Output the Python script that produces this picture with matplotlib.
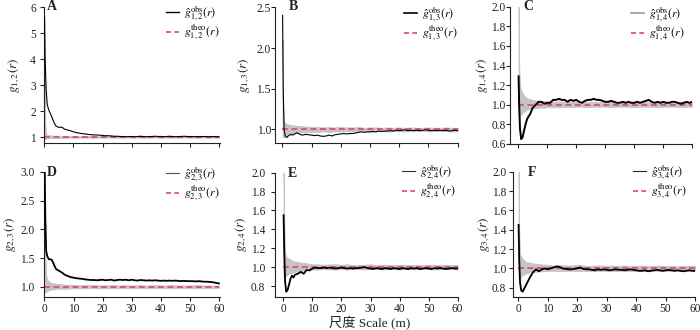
import matplotlib
matplotlib.use("Agg")
import matplotlib.pyplot as plt
from matplotlib.lines import Line2D

plt.rcParams["font.family"] = ["Liberation Serif", "Noto Sans CJK SC"]
plt.rcParams["mathtext.fontset"] = "stix"

# distance grid (m) for the observed curves
r = [0.1, 0.3, 0.6, 1, 1.5, 2, 2.5, 3, 3.5, 4] + list(range(5, 61))
# distance grid (m) for the simulation envelopes
env_r = [0.1, 0.3, 0.6, 1, 1.5, 2, 2.5, 3, 3.5, 4, 5, 6, 7, 8, 9, 10] + list(range(12, 61, 2))

pairs = ["1,2", "1,3", "1,4", "2,3", "2,4", "3,4"]
letters = ["A", "B", "C", "D", "E", "F"]

g12_obs = [5.6, 4.0, 2.9, 2.25, 2.05, 1.92, 1.80, 1.65, 1.52, 1.42,
           1.37, 1.38, 1.30, 1.27, 1.24, 1.20, 1.17, 1.15, 1.13, 1.12,
           1.10, 1.09, 1.08, 1.08, 1.07, 1.06, 1.05, 1.05, 1.04, 1.03,
           1.03, 1.02, 1.02, 1.01, 1.02, 1.02, 1.01, 1.02, 1.03, 1.02,
           1.01, 1.02, 1.02, 1.03, 1.02, 1.02, 1.01, 1.02, 1.03, 1.02,
           1.01, 1.02, 1.02, 1.03, 1.02, 1.02, 1.01, 1.02, 1.01, 1.02,
           1.02, 1.01, 1.01, 1.02, 1.01, 1.01]
g12_hi = [4.0, 1.6, 1.15, 1.08, 1.07, 1.06, 1.06, 1.05, 1.05, 1.05, 1.05, 1.045, 1.04, 1.04, 1.04, 1.04,
          1.04, 1.035, 1.04, 1.03, 1.035, 1.03, 1.03, 1.035, 1.03, 1.025, 1.03, 1.03, 1.025,
          1.03, 1.025, 1.03, 1.025, 1.03, 1.025, 1.025, 1.03, 1.025, 1.025, 1.03, 1.025]
g12_lo = [0.9, 0.93, 0.94, 0.95, 0.95, 0.955, 0.96, 0.96, 0.96, 0.965, 0.965, 0.965, 0.97, 0.97, 0.97, 0.97,
          0.97, 0.975, 0.97, 0.975, 0.975, 0.98, 0.975, 0.975, 0.98, 0.975, 0.98, 0.975, 0.98,
          0.98, 0.975, 0.98, 0.98, 0.975, 0.98, 0.98, 0.975, 0.98, 0.98, 0.975, 0.98]

g13_obs = [2.4, 1.5, 1.0, 0.92, 0.90, 0.92, 0.93, 0.94, 0.93, 0.94,
           0.96, 0.94, 0.93, 0.94, 0.935, 0.93, 0.925, 0.93, 0.92, 0.915,
           0.92, 0.93, 0.92, 0.935, 0.94, 0.945, 0.95, 0.945, 0.95, 0.95,
           0.955, 0.965, 0.97, 0.965, 0.97, 0.97, 0.975, 0.97, 0.98, 0.975,
           0.98, 0.98, 0.985, 0.98, 0.99, 0.985, 0.99, 0.995, 0.985, 0.99,
           0.985, 0.99, 0.985, 0.99, 0.995, 0.99, 0.985, 0.99, 0.985, 0.99,
           0.985, 0.99, 0.98, 0.985, 0.99, 0.985]
g13_hi = [2.1, 1.3, 1.1, 1.08, 1.07, 1.06, 1.06, 1.05, 1.05, 1.05, 1.045, 1.04, 1.04, 1.035, 1.035, 1.03,
          1.03, 1.025, 1.03, 1.025, 1.03, 1.025, 1.025, 1.03, 1.02, 1.025, 1.025, 1.02, 1.025,
          1.02, 1.025, 1.02, 1.025, 1.02, 1.02, 1.025, 1.02, 1.02, 1.025, 1.02, 1.02]
g13_lo = [0.92, 0.9, 0.91, 0.92, 0.93, 0.94, 0.945, 0.95, 0.95, 0.955, 0.96, 0.96, 0.965, 0.965, 0.97, 0.97,
          0.97, 0.975, 0.97, 0.975, 0.975, 0.98, 0.975, 0.98, 0.98, 0.975, 0.98, 0.98, 0.975,
          0.98, 0.98, 0.975, 0.98, 0.98, 0.98, 0.975, 0.98, 0.98, 0.98, 0.975, 0.98]

g14_obs = [1.29, 1.0, 0.75, 0.65, 0.67, 0.74, 0.80, 0.85, 0.88, 0.90,
           0.97, 1.00, 1.03, 1.03, 1.01, 1.02, 1.02, 1.05, 1.05, 1.06,
           1.05, 1.05, 1.03, 1.05, 1.04, 1.05, 1.03, 1.02, 1.04, 1.05,
           1.05, 1.06, 1.05, 1.05, 1.04, 1.03, 1.03, 1.04, 1.03, 1.02,
           1.02, 1.03, 1.02, 1.03, 1.02, 1.02, 1.03, 1.02, 1.03, 1.04,
           1.05, 1.03, 1.02, 1.03, 1.02, 1.03, 1.02, 1.02, 1.03, 1.03,
           1.02, 1.01, 1.02, 1.03, 1.02, 1.03]
g14_hi = [2.0, 1.4, 1.2, 1.15, 1.12, 1.10, 1.08, 1.07, 1.06, 1.06, 1.05, 1.045, 1.04, 1.04, 1.035, 1.035,
          1.03, 1.035, 1.03, 1.025, 1.03, 1.03, 1.025, 1.03, 1.025, 1.03, 1.025, 1.025, 1.03,
          1.025, 1.025, 1.03, 1.025, 1.025, 1.03, 1.025, 1.025, 1.025, 1.03, 1.025, 1.025]
g14_lo = [0.88, 0.88, 0.90, 0.90, 0.92, 0.93, 0.94, 0.95, 0.955, 0.96, 0.965, 0.965, 0.97, 0.97, 0.97, 0.975,
          0.975, 0.975, 0.98, 0.975, 0.98, 0.98, 0.975, 0.98, 0.98, 0.98, 0.975, 0.98, 0.98,
          0.98, 0.975, 0.98, 0.98, 0.98, 0.975, 0.98, 0.98, 0.98, 0.975, 0.98, 0.98]

g23_obs = [3.03, 2.2, 1.62, 1.53, 1.48, 1.48, 1.47, 1.42, 1.36, 1.31,
           1.28, 1.25, 1.21, 1.19, 1.17, 1.16, 1.15, 1.145, 1.14, 1.13,
           1.125, 1.12, 1.12, 1.115, 1.12, 1.125, 1.115, 1.12, 1.125, 1.11,
           1.12, 1.125, 1.12, 1.125, 1.115, 1.125, 1.115, 1.11, 1.12, 1.115,
           1.11, 1.115, 1.11, 1.115, 1.11, 1.105, 1.11, 1.105, 1.11, 1.105,
           1.11, 1.105, 1.10, 1.105, 1.10, 1.10, 1.10, 1.095, 1.10, 1.095,
           1.09, 1.09, 1.085, 1.08, 1.07, 1.06]
g23_hi = [2.0, 1.5, 1.2, 1.12, 1.10, 1.08, 1.07, 1.06, 1.06, 1.05, 1.05, 1.045, 1.04, 1.04, 1.04, 1.035,
          1.03, 1.035, 1.03, 1.03, 1.025, 1.03, 1.03, 1.025, 1.03, 1.025, 1.03, 1.025, 1.025,
          1.03, 1.025, 1.025, 1.03, 1.025, 1.025, 1.025, 1.03, 1.025, 1.025, 1.025, 1.025]
g23_lo = [0.92, 0.90, 0.92, 0.93, 0.94, 0.95, 0.955, 0.96, 0.96, 0.965, 0.97, 0.97, 0.97, 0.97, 0.975, 0.975,
          0.975, 0.975, 0.98, 0.975, 0.975, 0.98, 0.975, 0.98, 0.98, 0.975, 0.98, 0.98, 0.975,
          0.98, 0.98, 0.98, 0.975, 0.98, 0.98, 0.98, 0.975, 0.98, 0.98, 0.98, 0.98]

g24_obs = [1.55, 1.2, 0.85, 0.74, 0.76, 0.82, 0.88, 0.91, 0.89, 0.92,
           0.93, 0.95, 0.93, 0.97, 0.965, 0.985, 0.995, 0.99, 0.99, 0.995,
           0.99, 0.995, 0.99, 0.985, 0.99, 0.995, 0.99, 0.985, 0.99, 0.985,
           0.99, 0.99, 0.995, 1.0, 0.99, 0.985, 0.98, 0.99, 0.985, 0.98,
           0.99, 0.985, 0.98, 0.99, 0.985, 0.98, 0.99, 0.985, 0.98, 0.99,
           0.985, 0.99, 0.98, 0.985, 0.99, 0.985, 0.98, 0.99, 0.985, 0.99,
           0.985, 0.98, 0.985, 0.99, 0.985, 0.985]
g24_hi = [2.0, 1.5, 1.15, 1.11, 1.10, 1.09, 1.08, 1.07, 1.065, 1.06, 1.055, 1.05, 1.045, 1.04, 1.035, 1.03,
          1.03, 1.025, 1.03, 1.03, 1.025, 1.03, 1.02, 1.025, 1.025, 1.03, 1.02, 1.025, 1.025,
          1.02, 1.025, 1.025, 1.02, 1.025, 1.02, 1.025, 1.025, 1.02, 1.025, 1.02, 1.025]
g24_lo = [0.90, 0.88, 0.90, 0.91, 0.92, 0.93, 0.935, 0.94, 0.945, 0.95, 0.955, 0.96, 0.965, 0.97, 0.97, 0.975,
          0.975, 0.98, 0.975, 0.975, 0.98, 0.975, 0.98, 0.98, 0.975, 0.98, 0.98, 0.975, 0.98,
          0.98, 0.975, 0.98, 0.98, 0.975, 0.98, 0.98, 0.975, 0.98, 0.98, 0.98, 0.975]

g34_obs = [1.45, 1.1, 0.85, 0.77, 0.76, 0.79, 0.82, 0.85, 0.88, 0.91,
           0.96, 0.99, 0.97, 0.99, 1.0, 0.99, 1.0, 1.01, 1.02, 1.015,
           1.0, 0.995, 0.99, 0.99, 0.995, 1.0, 1.01, 0.995, 0.99, 0.99,
           0.985, 0.98, 0.99, 0.985, 0.99, 0.985, 0.98, 0.985, 0.99, 0.985,
           0.985, 0.98, 0.985, 0.99, 0.985, 0.98, 0.975, 0.975, 0.98, 0.97,
           0.975, 0.98, 0.985, 0.98, 0.975, 0.98, 0.985, 0.98, 0.975, 0.98,
           0.975, 0.97, 0.975, 0.98, 0.975, 0.975]
g34_hi = [2.0, 1.4, 1.15, 1.12, 1.10, 1.08, 1.07, 1.065, 1.06, 1.06, 1.05, 1.05, 1.045, 1.04, 1.04, 1.035,
          1.03, 1.035, 1.03, 1.03, 1.035, 1.03, 1.025, 1.03, 1.03, 1.025, 1.03, 1.025, 1.03,
          1.025, 1.025, 1.03, 1.025, 1.025, 1.03, 1.025, 1.025, 1.02, 1.025, 1.025, 1.025]
g34_lo = [0.90, 0.88, 0.90, 0.92, 0.93, 0.94, 0.945, 0.95, 0.955, 0.96, 0.96, 0.965, 0.97, 0.97, 0.97, 0.975,
          0.975, 0.97, 0.975, 0.975, 0.97, 0.975, 0.975, 0.97, 0.975, 0.975, 0.97, 0.975, 0.975,
          0.97, 0.975, 0.975, 0.97, 0.975, 0.975, 0.97, 0.975, 0.975, 0.975, 0.97, 0.975]

obs_series = [g12_obs, g13_obs, g14_obs, g23_obs, g24_obs, g34_obs]
hi_series = [g12_hi, g13_hi, g14_hi, g23_hi, g24_hi, g34_hi]
lo_series = [g12_lo, g13_lo, g14_lo, g23_lo, g24_lo, g34_lo]
theo_value = 1.0

yticks = [
    [1, 2, 3, 4, 5, 6],
    [1.0, 1.5, 2.0, 2.5],
    [0.6, 0.8, 1.0, 1.2, 1.4, 1.6, 1.8, 2.0],
    [1.0, 1.5, 2.0, 2.5, 3.0],
    [0.8, 1.0, 1.2, 1.4, 1.6, 1.8, 2.0],
    [0.8, 1.0, 1.2, 1.4, 1.6, 1.8, 2.0],
]
ytick_fmt = ["{:.0f}", "{:.1f}", "{:.1f}", "{:.1f}", "{:.1f}", "{:.1f}"]
xticks = [0, 10, 20, 30, 40, 50, 60]

W, H = 700, 330
# layout per panel in pixels: left, right, top, bottom
boxes = [(44, 220, 7, 143), (275.3, 457.7, 7.3, 143.3), (510, 692.3, 6.7, 144),
         (44.3, 219.5, 171.7, 296.7), (275, 457.7, 172.7, 296.7), (513.3, 695, 171.7, 296.7)]
xlims = [(-0.1, 60.3), (-2.4, 60), (-2.86, 60), (-0.05, 60.2), (-2.86, 60), (-1.7, 60)]
ylims = [(0.77, 6.0), (0.83, 2.5), (0.6, 2.0), (0.83, 3.0), (0.687, 2.0), (0.707, 2.0)]
ypads = [3.2, 0.5, 0.5, 4.4, 4.4, 2.4]
obs_lw = [0.8, 0.8, 1.4, 1.3, 1.3, 1.3]
leg_obs = [("black", 1.0), ("black", 1.2), ("#9a9a9a", 1.2), ("#555555", 0.8), ("#333333", 0.8), ("#222222", 0.8)]
leg_anchor = [(219, 3), (457, 4), (684, 4), (219, 164), (455, 162), (686, 162)]
ylabel_x = [14, 244, 482, 10, 241, 484]
letter_xy = [(52, 6), (293, 6), (528, 7), (52, 172), (292, 173), (532, 172)]

theo_color = "#dc4a62"
env_color = "#c4c4c4"

fig = plt.figure(figsize=(W / 100, H / 100), dpi=100)

for i in range(6):
    L, R, T, B = boxes[i]
    ax = fig.add_axes([L / W, 1 - B / H, (R - L) / W, (B - T) / H])
    ax.fill_between(env_r, lo_series[i], hi_series[i], color=env_color, lw=0.6, edgecolor=env_color, zorder=1)
    ax.plot([0, 60], [theo_value, theo_value], color=theo_color, lw=1.2, dashes=(3.5, 2.2), zorder=2)
    ax.plot(r, obs_series[i], color="black", lw=obs_lw[i], zorder=3)
    ax.set_xlim(*xlims[i])
    ax.set_ylim(*ylims[i])
    ax.set_xticks(xticks)
    ax.set_yticks(yticks[i])
    ax.set_yticklabels([ytick_fmt[i].format(v) for v in yticks[i]])
    for side in ("top", "right"):
        ax.spines[side].set_visible(False)
    for side in ("left", "bottom"):
        ax.spines[side].set_linewidth(0.8)
        ax.spines[side].set_color("#222222")
    ax.tick_params(axis="both", direction="out", length=2.6, width=0.8, colors="#222222", labelsize=8.3)
    ax.tick_params(axis="y", pad=ypads[i])
    ax.tick_params(axis="x", pad=2.0)
    if i < 3:
        ax.tick_params(axis="x", labelbottom=False)
    ax.set_facecolor("none")

    handles = [Line2D([], [], color=leg_obs[i][0], lw=leg_obs[i][1]),
               Line2D([], [], color=theo_color, lw=1.2, dashes=(3, 2))]
    labels = [r"$\hat{g}^{\mathrm{obs}}_{%s}(r)$" % pairs[i],
              r"$g^{\mathrm{theo}}_{%s}(r)$" % pairs[i]]
    ax.legend(handles, labels, loc="upper right", frameon=False, fontsize=8.6,
              handlelength=1.1, handletextpad=0.35, labelspacing=0.05, borderpad=0,
              borderaxespad=0,
              bbox_to_anchor=(leg_anchor[i][0] / W, 1 - leg_anchor[i][1] / H),
              bbox_transform=fig.transFigure)

    fig.text(ylabel_x[i] / W, 1 - ((T + B) / 2) / H, r"$g_{%s}(r)$" % pairs[i],
             rotation=90, ha="center", va="center", fontsize=9.5, color="#222222")
    fig.text(letter_xy[i][0] / W, 1 - letter_xy[i][1] / H, letters[i],
             ha="center", va="center", fontsize=10, fontweight="bold", color="#222222")

fig.text(370 / W, 1 - 323 / H, "尺度 Scale (m)", ha="center", va="center",
         fontsize=9.5, color="#222222")

fig.savefig("out.png", dpi=100, facecolor="white")
